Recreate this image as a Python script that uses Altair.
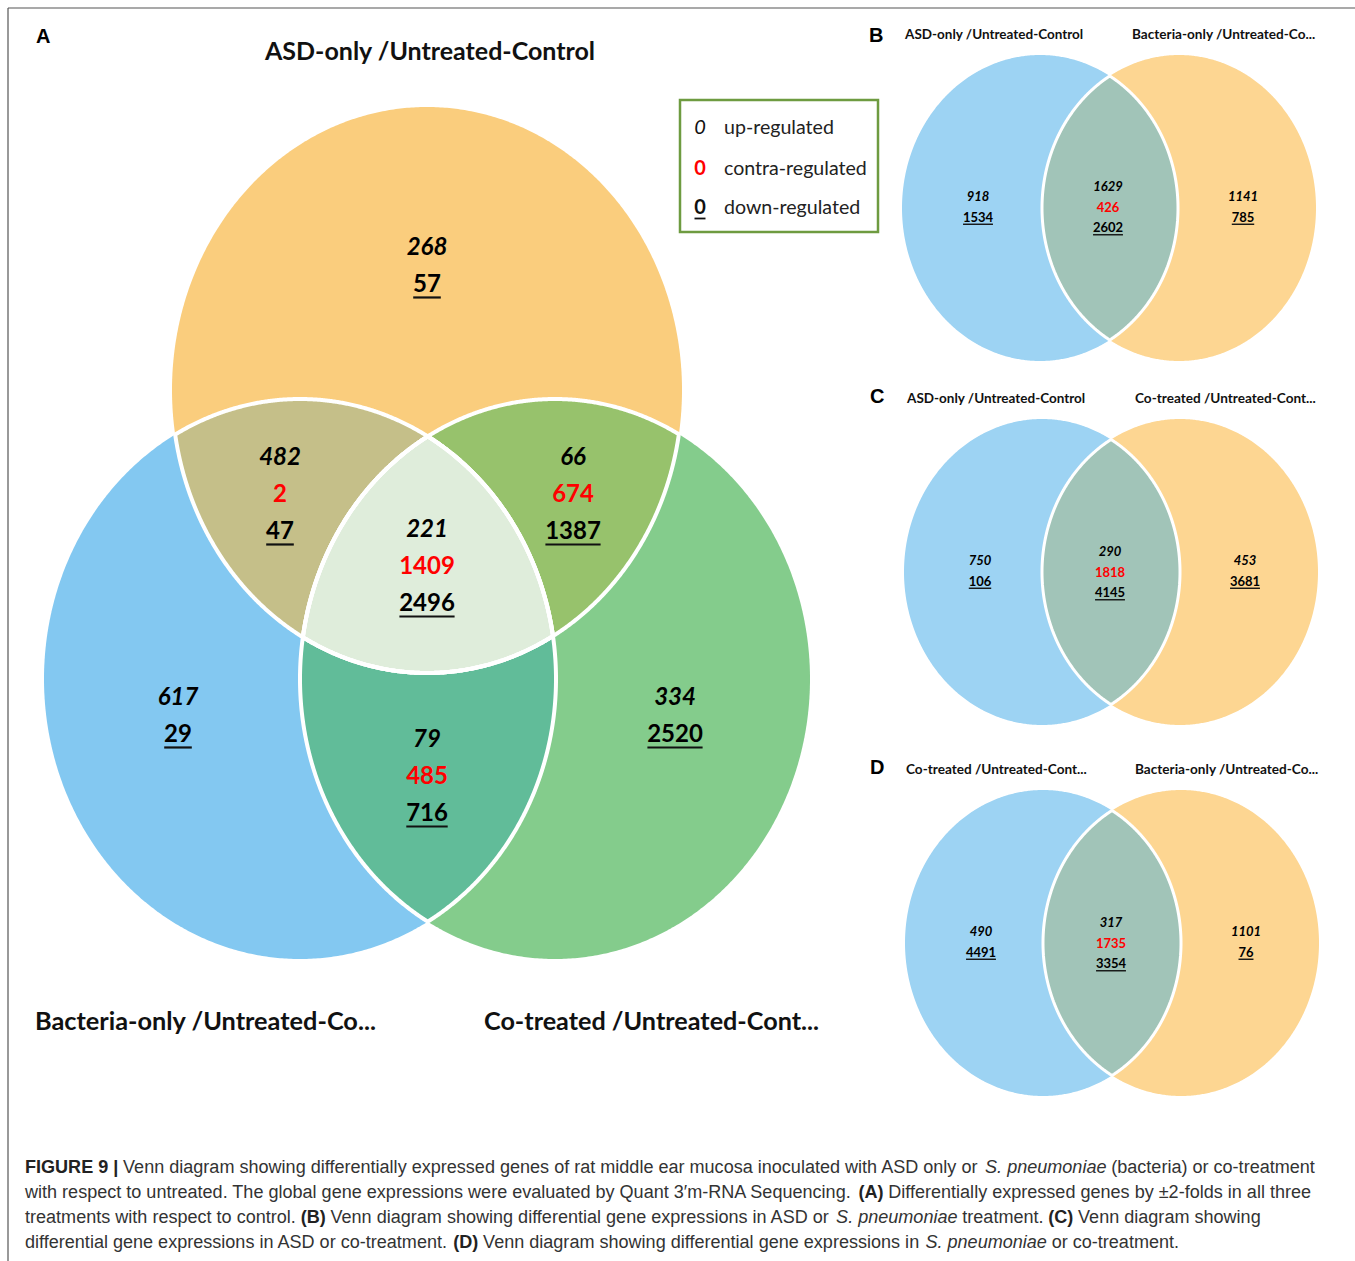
import altair as alt
import numpy as np
import pandas as pd

W, H = 1355, 1261

# ------------------------------------------------------------------ data
# Panel A: three-set Venn (ASD-only, Bacteria-only, Co-treated vs untreated control)
sets_A = ["ASD-only /Untreated-Control", "Bacteria-only /Untreated-Co...", "Co-treated /Untreated-Cont..."]
regions_A = ["ASD only", "ASD & Bacteria", "ASD & Co-treated", "All three",
             "Bacteria only", "Bacteria & Co-treated", "Co-treated only"]
up_A = [268, 482, 66, 221, 617, 79, 334]
contra_A = [None, 2, 674, 1409, None, 485, None]
down_A = [57, 47, 1387, 2496, 29, 716, 2520]

# Panels B-D: two-set Venns (left only, overlap, right only)
sets_B = ["ASD-only /Untreated-Control", "Bacteria-only /Untreated-Co..."]
up_B = [918, 1629, 1141]
contra_B = [None, 426, None]
down_B = [1534, 2602, 785]

sets_C = ["ASD-only /Untreated-Control", "Co-treated /Untreated-Cont..."]
up_C = [750, 290, 453]
contra_C = [None, 1818, None]
down_C = [106, 4145, 3681]

sets_D = ["Co-treated /Untreated-Cont...", "Bacteria-only /Untreated-Co..."]
up_D = [490, 317, 1101]
contra_D = [None, 1735, None]
down_D = [4491, 3354, 76]

legend_labels = ["up-regulated", "contra-regulated", "down-regulated"]
panel_letters = ["A", "B", "C", "D"]

caption_lines = [
    [("FIGURE 9 |", "b"),
     ("Venn diagram showing differentially expressed genes of rat middle ear mucosa inoculated with ASD only or", "n"),
     ("S. pneumoniae", "i"), ("(bacteria) or co-treatment", "n")],
    [("with respect to untreated. The global gene expressions were evaluated by Quant 3\u2032m-RNA Sequencing.", "n"),
     ("(A)", "b"), ("Differentially expressed genes by \u00b12-folds in all three", "n")],
    [("treatments with respect to control.", "n"), ("(B)", "b"),
     ("Venn diagram showing differential gene expressions in ASD or", "n"),
     ("S. pneumoniae", "i"), ("treatment.", "n"), ("(C)", "b"), ("Venn diagram showing", "n")],
    [("differential gene expressions in ASD or co-treatment.", "n"), ("(D)", "b"),
     ("Venn diagram showing differential gene expressions in", "n"),
     ("S. pneumoniae", "i"), ("or co-treatment.", "n")],
]

# ------------------------------------------------------------------ layout
# ellipses (cx, cy, rx, ry) in page pixels
ELL_A = {"top": (427, 390, 255, 283), "left": (300, 679, 256, 280), "right": (555, 679, 255, 280)}
ELL_2 = {"B": ((1040, 208, 138, 153), (1179, 208, 137, 153)),
         "C": ((1042, 572, 138, 153), (1180, 572, 138, 153)),
         "D": ((1043, 943, 138, 153), (1181, 943, 138, 153))}

COL_A = {"top": "#FACD7D", "left": "#83C8F1", "right": "#84CC8C",
         "top_left": "#C5BF89", "top_right": "#97C26C", "left_right": "#61BC99", "all": "#DFEDDB"}
COL_2 = {"left": "#9DD3F3", "right": "#FDD692", "both": "#A1C4B8"}

pos_A = [(427, 248), (280, 458), (573, 458), (427, 530), (178, 698), (427, 740), (675, 698)]
pos_2 = {"B": [(978, 197), (1108, 187), (1243, 197)],
         "C": [(980, 561), (1110, 552), (1245, 561)],
         "D": [(981, 932), (1111, 923), (1246, 932)]}


def ellipse_pts(e, n=1440):
    cx, cy, rx, ry = e
    t = np.linspace(0, 2 * np.pi, n, endpoint=False)
    return np.column_stack([cx + rx * np.cos(t), cy + ry * np.sin(t)])


def inside(p, e):
    cx, cy, rx, ry = e
    return ((p[:, 0] - cx) / rx) ** 2 + ((p[:, 1] - cy) / ry) ** 2 <= 1.0


def intersection(*ells):
    parts = []
    for i, e in enumerate(ells):
        p = ellipse_pts(e)
        m = np.ones(len(p), bool)
        for j, f in enumerate(ells):
            if j != i:
                m &= inside(p, f)
        parts.append(p[m])
    P = np.vstack(parts)
    c = P.mean(0)
    return P[np.argsort(np.arctan2(P[:, 1] - c[1], P[:, 0] - c[0]))]


def feature(P, fill, sw=0):
    ring = [[round(float(x), 2), round(float(y), 2)] for x, y in P]
    ring.append(ring[0])
    return {"type": "Feature", "geometry": {"type": "Polygon", "coordinates": [ring]},
            "properties": {"fill": fill, "sw": sw}}


base_feats, inter_feats = [], []
for k in ["top", "left", "right"]:
    base_feats.append(feature(ellipse_pts(ELL_A[k], 720), COL_A[k]))
inter_feats.append(feature(intersection(ELL_A["top"], ELL_A["left"]), COL_A["top_left"], 4))
inter_feats.append(feature(intersection(ELL_A["top"], ELL_A["right"]), COL_A["top_right"], 4))
inter_feats.append(feature(intersection(ELL_A["left"], ELL_A["right"]), COL_A["left_right"], 4))
triple_feats = [feature(intersection(ELL_A["top"], ELL_A["left"], ELL_A["right"]), COL_A["all"], 4)]
for p in ["B", "C", "D"]:
    l, r = ELL_2[p]
    base_feats.append(feature(ellipse_pts(l, 720), COL_2["left"]))
    base_feats.append(feature(ellipse_pts(r, 720), COL_2["right"]))
    inter_feats.append(feature(intersection(l, r), COL_2["both"], 3))

PROJ = dict(type="identity", scale=1, translate=[0, 0])


def shapes(feats, stroke=False):
    ch = alt.Chart(alt.Data(values=feats))
    if stroke:
        ch = ch.mark_geoshape(filled=False, stroke="white").encode(
            strokeWidth=alt.StrokeWidth("properties.sw:Q", scale=None))
    else:
        ch = ch.mark_geoshape(strokeWidth=0).encode(fill=alt.Fill("properties.fill:N", scale=None))
    return ch.project(**PROJ)


X = alt.X("x:Q", scale=alt.Scale(domain=[0, W], nice=False, zero=False), axis=None)
Y = alt.Y("y:Q", scale=alt.Scale(domain=[0, H], nice=False, zero=False, reverse=True), axis=None)

# ---- numbers
rows = {"up": [], "contra": [], "down": []}
ul = []


def add_region(cx, cy, u, c, d, fs, step):
    y = cy
    rows["up"].append({"x": cx, "y": y, "text": str(u), "fs": fs})
    y += step
    if c is not None:
        rows["contra"].append({"x": cx, "y": y, "text": str(c), "fs": fs})
        y += step
    rows["down"].append({"x": cx, "y": y, "text": str(d), "fs": fs})
    w = len(str(d)) * 0.575 * fs
    ul.append({"x": cx - w / 2, "x2": cx + w / 2, "y": y + 0.52 * fs, "y2": y + 0.52 * fs,
               "w": 2.2 if fs > 20 else 1.4, "c": "#111111"})


for (cx, cy), u, c, d in zip(pos_A, up_A, contra_A, down_A):
    add_region(cx, cy, u, c, d, 24, 37)
for p, (U, Cc, D) in {"B": (up_B, contra_B, down_B), "C": (up_C, contra_C, down_C),
                      "D": (up_D, contra_D, down_D)}.items():
    for (cx, cy), u, c, d in zip(pos_2[p], U, Cc, D):
        add_region(cx, cy, u, c, d, 13, 20.5)

# ---- legend
legend_box = pd.DataFrame([{"x": 680, "x2": 878, "y": 100, "y2": 232}])
leg_y = [128, 169, 208]
leg_up = pd.DataFrame([{"x": 700, "y": leg_y[0], "text": "0", "fs": 20}])
leg_contra = pd.DataFrame([{"x": 700, "y": leg_y[1], "text": "0", "fs": 20}])
leg_down = pd.DataFrame([{"x": 700, "y": leg_y[2], "text": "0", "fs": 20}])
ul.append({"x": 694.5, "x2": 705.5, "y": leg_y[2] + 10.5, "y2": leg_y[2] + 10.5, "w": 1.8, "c": "#111111"})
leg_text = pd.DataFrame([{"x": 724, "y": yy, "text": t, "fs": 19.6} for yy, t in zip(leg_y, legend_labels)])

# ---- set titles (left x, centre y, size)
titles = pd.DataFrame([
    {"x": 265, "y": 52, "text": sets_A[0], "fs": 25},
    {"x": 35, "y": 1022, "text": sets_A[1], "fs": 25.3},
    {"x": 484, "y": 1022, "text": sets_A[2], "fs": 25.2},
    {"x": 905, "y": 35, "text": sets_B[0], "fs": 13.5},
    {"x": 1132, "y": 35, "text": sets_B[1], "fs": 13.6},
    {"x": 907, "y": 399, "text": sets_C[0], "fs": 13.5},
    {"x": 1135, "y": 399, "text": sets_C[1], "fs": 13.6},
    {"x": 906, "y": 770, "text": sets_D[0], "fs": 13.6},
    {"x": 1135, "y": 770, "text": sets_D[1], "fs": 13.6},
])
letters = pd.DataFrame([{"x": x, "y": y, "text": t, "fs": 20}
                        for t, (x, y) in zip(panel_letters, [(36, 37), (869, 36), (870, 397), (870, 768)])])

# ---- caption layout with Arial/Liberation Sans advance widths
AR = {' ': 278, '"': 355, "'": 191, '(': 333, ')': 333, ',': 278, '-': 333, '.': 278, '/': 278, ':': 278,
      '|': 260, '\u2032': 250, '\u00b1': 549, '+': 584}
for ch in "0123456789":
    AR[ch] = 556
for ch, w in zip("ABCDEFGHIJKLMNOPQRSTUVWXYZ",
                 [667, 667, 722, 722, 667, 611, 778, 722, 278, 500, 667, 556, 833, 722, 778, 667, 778, 722, 667,
                  611, 722, 667, 944, 667, 667, 611]):
    AR[ch] = w
for ch, w in zip("abcdefghijklmnopqrstuvwxyz",
                 [556, 556, 500, 556, 556, 278, 556, 556, 222, 222, 500, 222, 833, 556, 556, 556, 556, 333, 500,
                  278, 556, 500, 722, 500, 500, 500]):
    AR[ch] = w
ARB = dict(AR)
ARB.update({'|': 280, 'A': 722, 'B': 722, 'R': 722, 'U': 722, 'E': 667, 'G': 778, 'F': 611, 'I': 278})


def tw(s, bold=False):
    t = ARB if bold else AR
    return sum(t.get(ch, 556) for ch in s) / 1000.0


GAP = 0.26
line1_em = sum(tw(s, st == "b") for s, st in caption_lines[0]) + GAP * (len(caption_lines[0]) - 1)
cap_fs = 1290.0 / line1_em
cap_rows = {"n": [], "b": [], "i": []}
for li, line in enumerate(caption_lines):
    x = 25.0
    for s, st in line:
        cap_rows[st].append({"x": x, "y": 1168 + 25 * li, "text": s, "fs": cap_fs})
        x += (tw(s, st == "b") + GAP) * cap_fs

# ---- rules (frame + underlines)
frame = [{"x": 8, "x2": W, "y": 8, "y2": 8, "w": 1.2, "c": "#555555"},
         {"x": 8, "x2": 8, "y": 8, "y2": H, "w": 1.2, "c": "#555555"}]
rules_df = pd.DataFrame(frame + ul)


def texts(rows_, font, color="#000000", weight="normal", style="normal", align="center"):
    return alt.Chart(pd.DataFrame(rows_)).mark_text(
        font=font, fontWeight=weight, fontStyle=style, color=color, align=align, baseline="middle"
    ).encode(x=X, y=Y, text="text:N", size=alt.Size("fs:Q", scale=None))


layers = [
    shapes(base_feats),
    shapes(inter_feats),
    shapes(triple_feats),
    shapes(inter_feats + triple_feats, stroke=True),
    alt.Chart(legend_box).mark_rect(fill="white", stroke="#6E9B40", strokeWidth=2.5).encode(
        x=X, x2="x2:Q", y=Y, y2="y2:Q"),
    alt.Chart(rules_df).mark_rule().encode(x=X, x2="x2:Q", y=Y, y2="y2:Q",
                                           color=alt.Color("c:N", scale=None),
                                           size=alt.Size("w:Q", scale=None)),
    texts(rows["up"], "Lato", weight="bold", style="italic"),
    texts(rows["contra"], "Lato", color="#FF0000", weight="bold"),
    texts(rows["down"], "Lato", weight="bold"),
    texts(leg_up, "Lato", color="#111111", style="italic"),
    texts(leg_contra, "Lato", color="#FF0000", weight="bold"),
    texts(leg_down, "Lato", color="#111111", weight="bold"),
    texts(leg_text, "Lato", color="#222222", align="left"),
    texts(titles, "Lato", color="#111111", weight="bold", align="left"),
    texts(letters, "Liberation Sans", color="#000000", weight="bold", align="left"),
    texts(cap_rows["n"], "Liberation Sans", color="#333333", align="left"),
    texts(cap_rows["b"], "Liberation Sans", color="#222222", weight="bold", align="left"),
    texts(cap_rows["i"], "Liberation Sans", color="#333333", style="italic", align="left"),
]

chart = alt.layer(*layers).properties(
    width=W, height=H, padding=0, autosize=alt.AutoSizeParams(type="none"), background="white"
).configure_view(stroke=None)

chart.save("out.html", embed_options={"renderer": "svg", "actions": False})
